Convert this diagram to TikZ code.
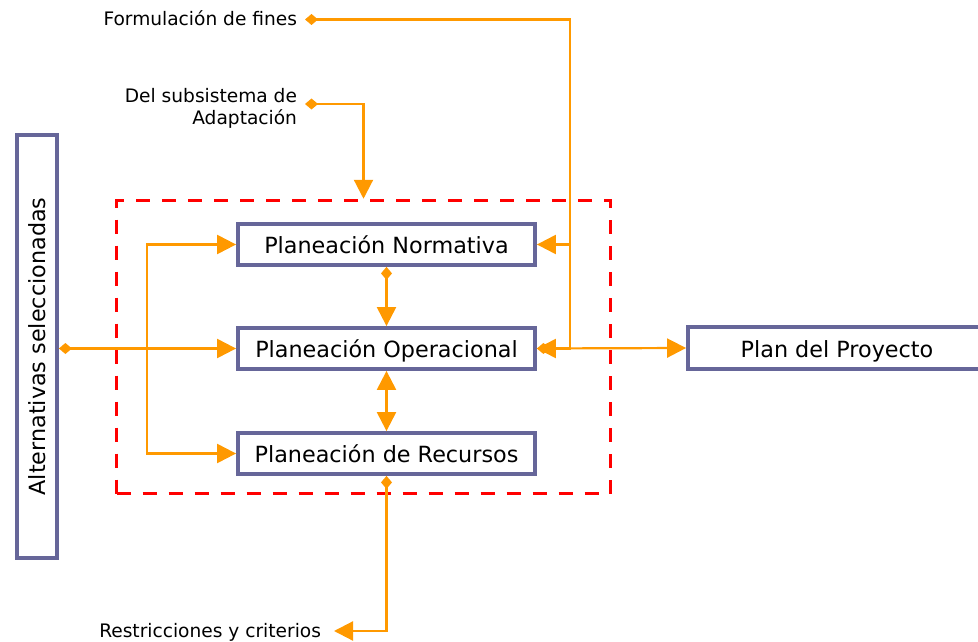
\documentclass[tikz,border=0pt]{standalone}
\usepackage{fontspec}
\setmainfont{DejaVu Sans}
\usetikzlibrary{arrows.meta}
\definecolor{boxc}{RGB}{102,102,153}
\definecolor{org}{RGB}{255,153,0}
\definecolor{redd}{RGB}{255,0,0}
\begin{document}
\begin{tikzpicture}[x=1pt,y=-1pt,
  pbox/.style={draw=boxc,line width=3.8pt,minimum width=297pt,minimum height=41pt,inner sep=0pt,text height=18pt,text depth=0pt,font=\fontsize{22.3}{24}\selectfont},
  lab/.style={font=\fontsize{18.6}{22}\selectfont,inner sep=0pt,outer sep=0pt},
  conn/.style={draw=org,line width=2.2pt},
  ar/.style={-{Triangle[length=19pt,width=19pt]}},
  da/.style={{Diamond[length=13pt,width=11pt]}-{Triangle[length=19pt,width=19pt]}},
  dd/.style={{Triangle[length=19pt,width=19pt]}-{Triangle[length=19pt,width=19pt]}}]
\useasboundingbox (0,0) rectangle (978,642);
\clip (0,0) rectangle (978,642);
% dashed frame
\node (frame) [draw=redd,line width=3.5pt,dash pattern=on 14pt off 12pt,minimum width=494pt,minimum height=293pt,inner sep=0pt] at (363.5,347) {};
% boxes
\node (norm) [pbox] at (386.5,244.5) {Planeación Normativa};
\node (op)   [pbox] at (386.5,348.5) {Planeación Operacional};
\node (rec)  [pbox] at (386.5,453.5) {Planeación de Recursos};
\node (plan) [pbox,minimum width=298pt,minimum height=42pt] at (837,348) {Plan del Proyecto};
\node (alt)  [draw=boxc,line width=3.8pt,minimum width=40pt,minimum height=423pt,inner sep=0pt,font=\fontsize{22.3}{24}\selectfont] at (37,346.5) {\rotatebox{90}{Alternativas seleccionadas}};
% labels
\node (form) [lab,anchor=east,inner xsep=8pt,text height=13pt,text depth=0pt] at (305,19.5) {Formulación de fines};
\node (del)  [lab,anchor=east,inner xsep=8pt,align=right] at (305,108) {Del subsistema de\\Adaptación};
\node (restr)[lab,anchor=east,inner xsep=13pt,text height=13pt,text depth=0pt] at (334,631) {Restricciones y criterios};
% connectors
\coordinate (split) at (147,347);
\coordinate (fcol) at (570,0);
\draw[conn,da] (alt.east |- op.west) -- (op.west);
\draw[conn,ar] (split) |- (norm.west);
\draw[conn,ar] (split) |- (rec.west);
\draw[conn,da] (norm.south) -- (op.north);
\draw[conn,dd] (op.south) -- (rec.north);
\draw[conn,da] (rec.south) |- (restr.east);
\draw[conn,da] (form.east) -| (fcol |- op.east) -- (op.east);
\draw[conn,ar] (fcol |- norm.east) -- (norm.east);
\draw[conn,da] (op.east) -- (plan.west);
\draw[conn,da] ([yshift=4pt]del.east) -| (frame.north);
\end{tikzpicture}
\end{document}
